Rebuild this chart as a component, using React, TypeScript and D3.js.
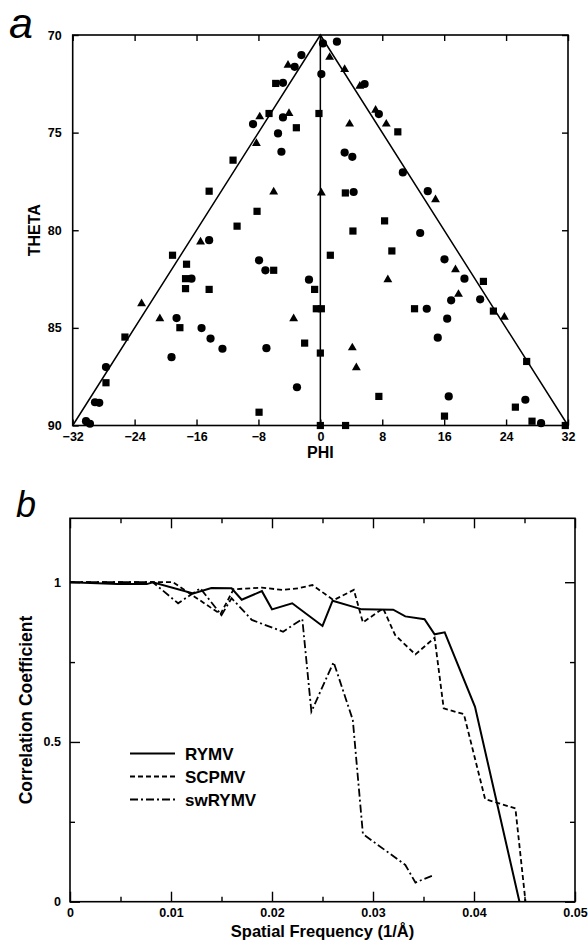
import { useEffect, useRef } from 'react';
import * as d3 from 'd3';

// panel a: orientations (phi, theta) by marker type
const circlePts = [
    [0.34, 70.43], [2.14, 70.34], [-2.45, 71.03], [-3.32, 71.63], [0.13, 72.0], [5.72, 72.51],
    [-4.83, 72.45], [-8.7, 74.56], [-4.83, 74.22], [-5.47, 75.04], [-5.03, 75.98], [7.56, 74.05],
    [3.14, 76.02], [4.13, 76.24], [10.66, 77.04], [13.88, 78.0], [4.3, 78.04],
    [-14.37, 80.51], [-16.65, 82.48], [-18.58, 84.5], [-15.35, 85.01], [-14.19, 85.55], [-12.65, 86.07],
    [-27.7, 87.01], [-19.23, 86.5], [-29.12, 88.81], [-28.57, 88.84], [-30.28, 89.78], [-29.77, 89.91],
    [-7.92, 81.54], [-7.1, 82.05], [-6.97, 86.04], [-3.02, 88.04],
    [12.9, 80.14], [-1.47, 82.53], [13.75, 84.02], [16.04, 81.49], [18.62, 82.48], [16.9, 83.59],
    [20.65, 83.54], [16.39, 84.53], [15.17, 85.5], [16.59, 88.51], [26.49, 88.68], [28.52, 89.88],
];
const trianglePts = [
    [-4.18, 71.54], [1.2, 71.14], [3.14, 71.76], [5.1, 72.62], [-7.83, 74.19], [-4.05, 74.02],
    [-8.26, 75.55], [-6.03, 78.04], [3.78, 74.56], [7.14, 73.85], [8.52, 74.56], [14.88, 78.43],
    [0.13, 78.09], [-15.48, 80.6], [-23.1, 83.76], [-20.74, 84.53], [-3.45, 84.53],
    [8.72, 82.53], [17.46, 82.02], [17.85, 83.28], [23.78, 84.45], [4.13, 86.02], [4.65, 87.04],
];
const squarePts = [
    [-5.77, 72.48], [-6.63, 74.02], [-3.1, 74.75], [-11.28, 76.41], [-14.37, 78.0], [-8.18, 79.03],
    [-10.76, 79.79], [-0.18, 74.02], [10.01, 74.96], [3.23, 78.09], [8.3, 79.52],
    [-19.1, 81.28], [-17.29, 81.74], [-17.42, 82.48], [-17.42, 82.99], [-14.37, 83.03], [-18.15, 84.99],
    [-25.25, 85.47], [-27.7, 87.81], [-6.03, 82.05], [-7.92, 89.32],
    [4.21, 80.04], [1.29, 81.28], [9.24, 81.06], [-0.74, 83.03], [-0.52, 84.02], [0.13, 84.02],
    [-2.03, 85.78], [0, 86.29], [12.17, 84.02], [21.07, 82.62], [22.36, 84.14], [26.66, 86.72],
    [7.56, 88.51], [25.2, 89.06], [16.04, 89.52], [27.35, 89.78], [0, 90], [3.26, 90], [31.65, 90],
];
const phiTicks = [-32, -24, -16, -8, 0, 8, 16, 24, 32];
const thetaTicks = [70, 75, 80, 85, 90];

// panel b: correlation coefficient vs spatial frequency
const rymv = [
    [0, 1.0], [0.0047, 0.994], [0.0076, 0.994], [0.0082, 1.0], [0.0122, 0.965], [0.014, 0.982],
    [0.016, 0.981], [0.017, 0.945], [0.019, 0.972], [0.020, 0.915], [0.022, 0.934], [0.025, 0.863],
    [0.026, 0.942], [0.0289, 0.915], [0.032, 0.914], [0.0332, 0.893], [0.0351, 0.884], [0.0361, 0.837],
    [0.0371, 0.843], [0.0401, 0.61], [0.0445, 0],
];
const scpmv = [
    [0, 1.0], [0.0102, 1.0], [0.0149, 0.9], [0.0162, 0.978], [0.019, 0.983], [0.021, 0.976],
    [0.0226, 0.981], [0.024, 0.991], [0.0261, 0.944], [0.0281, 0.976], [0.029, 0.874], [0.031, 0.918],
    [0.0322, 0.834], [0.0342, 0.774], [0.0361, 0.826], [0.037, 0.605], [0.039, 0.587], [0.0411, 0.321],
    [0.0441, 0.292], [0.0451, 0],
];
const swrymv = [
    [0, 1.0], [0.0082, 1.0], [0.0107, 0.934], [0.0129, 0.981], [0.015, 0.897], [0.016, 0.95],
    [0.018, 0.882], [0.0211, 0.845], [0.023, 0.885], [0.0239, 0.595], [0.0261, 0.75], [0.028, 0.569],
    [0.029, 0.212], [0.0332, 0.115], [0.0342, 0.06], [0.0361, 0.084],
];
const seriesNames = ['RYMV', 'SCPMV', 'swRYMV'];
const seriesDash = [null, '5,3', '8,3,2,3'];
const freqTicks = [0, 0.01, 0.02, 0.03, 0.04, 0.05];
const freqMinor = [0.005, 0.015, 0.025, 0.035, 0.045];
const corrTicks = [0, 0.5, 1];
const corrMinor = [0.25, 0.75];

const FONT = "'Liberation Sans', Arial, Helvetica, sans-serif";

export default function App() {
    const svgRef = useRef<SVGSVGElement>(null);

    useEffect(() => {
        const svg = d3.select(svgRef.current);
        svg.selectAll('*').remove();

        const styleAxis = (g: any, size: number) => {
            g.select('.domain').remove();
            g.selectAll('line').attr('stroke', '#000').attr('stroke-width', 1.4);
            g.selectAll('text')
                .attr('fill', '#000')
                .style('font-family', FONT)
                .style('font-weight', 'bold')
                .style('font-size', size + 'px');
        };

        // ---------- panel a ----------
        const xA = d3.scaleLinear().domain([-32, 32]).range([72.7, 568]);
        const yA = d3.scaleLinear().domain([70, 90]).range([35, 425.5]);
        const a = svg.append('g');

        a.append('g').attr('transform', `translate(0,${yA(90)})`)
            .call(d3.axisBottom(xA).tickValues(phiTicks).tickSize(-6).tickPadding(7))
            .call(g => styleAxis(g, 12.5));
        a.append('g').attr('transform', `translate(0,${yA(70)})`)
            .call(d3.axisTop(xA).tickValues(phiTicks).tickSize(-6).tickFormat(() => ''))
            .call(g => styleAxis(g, 12.5));
        a.append('g').attr('transform', `translate(${xA(-32)},0)`)
            .call(d3.axisLeft(yA).tickValues(thetaTicks).tickSize(-6).tickPadding(11))
            .call(g => styleAxis(g, 12.5));
        a.append('g').attr('transform', `translate(${xA(32)},0)`)
            .call(d3.axisRight(yA).tickValues(thetaTicks).tickSize(-6).tickFormat(() => ''))
            .call(g => styleAxis(g, 12.5));
        a.append('rect')
            .attr('x', xA(-32)).attr('y', yA(70))
            .attr('width', xA(32) - xA(-32)).attr('height', yA(90) - yA(70))
            .attr('fill', 'none').attr('stroke', '#000').attr('stroke-width', 1.6);

        // boundary of the asymmetric unit
        const bound = d3.line<number[]>().x(d => xA(d[0])).y(d => yA(d[1]));
        a.append('path').attr('d', bound([[-32, 90], [0, 70], [32, 90]]))
            .attr('fill', 'none').attr('stroke', '#000').attr('stroke-width', 1.5);
        a.append('path').attr('d', bound([[0, 70], [0, 90]]))
            .attr('fill', 'none').attr('stroke', '#000').attr('stroke-width', 1.5);

        a.selectAll('.sq').data(squarePts).enter().append('rect')
            .attr('x', d => xA(d[0]) - 3.6).attr('y', d => yA(d[1]) - 3.6)
            .attr('width', 7.2).attr('height', 7.2).attr('fill', '#000');
        a.selectAll('.tri').data(trianglePts).enter().append('path')
            .attr('transform', d => `translate(${xA(d[0])},${yA(d[1])})`)
            .attr('d', d3.symbol().type(d3.symbolTriangle).size(34)())
            .attr('fill', '#000');
        a.selectAll('.cir').data(circlePts).enter().append('circle')
            .attr('cx', d => xA(d[0])).attr('cy', d => yA(d[1])).attr('r', 4.1).attr('fill', '#000');

        a.append('text').attr('x', (xA(-32) + xA(32)) / 2).attr('y', 458)
            .attr('text-anchor', 'middle')
            .style('font-family', FONT).style('font-weight', 'bold').style('font-size', '16px')
            .text('PHI');
        a.append('text').attr('transform', `translate(40,${(yA(70) + yA(90)) / 2}) rotate(-90)`)
            .attr('text-anchor', 'middle')
            .style('font-family', FONT).style('font-weight', 'bold').style('font-size', '16px')
            .text('THETA');
        a.append('text').attr('x', 9).attr('y', 38)
            .style('font-family', FONT).style('font-style', 'italic').style('font-size', '43px')
            .text('a');

        // ---------- panel b ----------
        const xB = d3.scaleLinear().domain([0, 0.05]).range([70, 575]);
        const yB = d3.scaleLinear().domain([0, 1.2]).range([901.7, 518.3]);
        const b = svg.append('g');
        const fmtF = (d: any) => (d === 0 ? '0' : d3.format('.2f')(d));
        const fmtC = (d: any) => d3.format('~g')(d);

        b.append('g').attr('transform', `translate(0,${yB(0)})`)
            .call(d3.axisBottom(xB).tickValues(freqTicks).tickSize(-10).tickPadding(6.5).tickFormat(fmtF))
            .call(g => styleAxis(g, 12.5));
        b.append('g').attr('transform', `translate(0,${yB(0)})`)
            .call(d3.axisBottom(xB).tickValues(freqMinor).tickSize(-5).tickFormat(() => ''))
            .call(g => styleAxis(g, 12.5));
        b.append('g').attr('transform', `translate(0,${yB(1.2)})`)
            .call(d3.axisTop(xB).tickValues(freqTicks).tickSize(-10).tickFormat(() => ''))
            .call(g => styleAxis(g, 12.5));
        b.append('g').attr('transform', `translate(0,${yB(1.2)})`)
            .call(d3.axisTop(xB).tickValues(freqMinor).tickSize(-5).tickFormat(() => ''))
            .call(g => styleAxis(g, 12.5));
        b.append('g').attr('transform', `translate(${xB(0)},0)`)
            .call(d3.axisLeft(yB).tickValues(corrTicks).tickSize(-10).tickPadding(9).tickFormat(fmtC))
            .call(g => styleAxis(g, 12.5));
        b.append('g').attr('transform', `translate(${xB(0)},0)`)
            .call(d3.axisLeft(yB).tickValues(corrMinor).tickSize(-5).tickFormat(() => ''))
            .call(g => styleAxis(g, 12.5));
        b.append('g').attr('transform', `translate(${xB(0.05)},0)`)
            .call(d3.axisRight(yB).tickValues(corrTicks).tickSize(-10).tickFormat(() => ''))
            .call(g => styleAxis(g, 12.5));
        b.append('g').attr('transform', `translate(${xB(0.05)},0)`)
            .call(d3.axisRight(yB).tickValues(corrMinor).tickSize(-5).tickFormat(() => ''))
            .call(g => styleAxis(g, 12.5));
        b.append('rect')
            .attr('x', xB(0)).attr('y', yB(1.2))
            .attr('width', xB(0.05) - xB(0)).attr('height', yB(0) - yB(1.2))
            .attr('fill', 'none').attr('stroke', '#000').attr('stroke-width', 1.6);

        const curve = d3.line<number[]>().x(d => xB(d[0])).y(d => yB(d[1]));
        [rymv, scpmv, swrymv].forEach((s, i) => {
            b.append('path').attr('d', curve(s))
                .attr('fill', 'none').attr('stroke', '#000')
                .attr('stroke-width', i === 0 ? 2 : 1.8)
                .attr('stroke-dasharray', seriesDash[i]);
        });

        // legend
        seriesNames.forEach((name, i) => {
            const ly = 753.5 + i * 23;
            b.append('line').attr('x1', 130).attr('x2', 175).attr('y1', ly).attr('y2', ly)
                .attr('stroke', '#000').attr('stroke-width', i === 0 ? 2 : 1.8)
                .attr('stroke-dasharray', seriesDash[i]);
            b.append('text').attr('x', 185).attr('y', ly + 6.5)
                .style('font-family', FONT).style('font-weight', 'bold').style('font-size', '17px')
                .text(name);
        });

        b.append('text').attr('x', (xB(0) + xB(0.05)) / 2).attr('y', 936.5)
            .attr('text-anchor', 'middle')
            .style('font-family', FONT).style('font-weight', 'bold').style('font-size', '16.5px')
            .text('Spatial Frequency (1/Å)');
        b.append('text').attr('transform', `translate(32,${(yB(0) + yB(1.2)) / 2}) rotate(-90)`)
            .attr('text-anchor', 'middle')
            .style('font-family', FONT).style('font-weight', 'bold').style('font-size', '17.5px')
            .text('Correlation Coefficient');
        b.append('text').attr('x', 16).attr('y', 517)
            .style('font-family', FONT).style('font-style', 'italic').style('font-size', '36px')
            .text('b');
    }, []);

    return (
        <svg
            ref={svgRef}
            width={588}
            height={940}
            style={{ position: 'absolute', left: 0, top: 0, background: '#fff' }}
        />
    );
}
